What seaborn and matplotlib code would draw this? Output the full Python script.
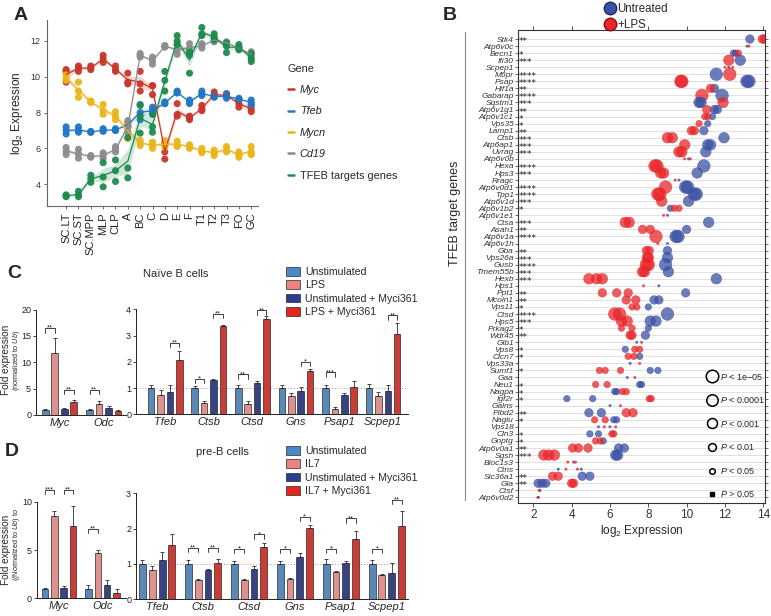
import numpy as np
import pandas as pd
import matplotlib
matplotlib.use("Agg")
import matplotlib.pyplot as plt
from matplotlib.lines import Line2D
from matplotlib.patches import Patch
from matplotlib.font_manager import FontProperties
import seaborn as sns

# ---------------- panel A : expression along B cell development ----------------
STAGES = ["SC.LT", "SC.ST", "SC.MPP", "MLP", "CLP", "A", "BC", "C", "D",
          "E", "F", "T1", "T2", "T3", "FO", "GC"]
MYC_A = [[10.4, 10.3, 9.7], [10.6, 10.5, 10.3], [10.6, 10.4, 10.5], [11.2, 11.0, 10.8],
         [10.6, 10.4, 10.3], [10.2, 9.7, 9.6], [10.3, 9.6, 9.2], [9.5, 9.5, 9.0],
         [6.3, 5.8, 5.4], [8.5, 7.9, 7.8], [7.8, 7.7, 7.6], [8.4, 8.2, 8.1],
         [9.15, 9.0, 8.9], [9.05, 8.9, 8.9], [8.7, 8.5, 8.3], [8.4, 8.2, 8.05]]
TFEB_A = [[7.2, 7.0, 6.8], [7.2, 7.0, 6.9], [6.9, 6.9, 6.95], [7.1, 7.0, 6.95],
          [7.1, 7.0, 7.0], [7.45, 7.3, 7.2], [8.45, 8.0, 7.6], [8.3, 8.1, 7.9],
          [8.6, 8.5, 8.5], [9.2, 9.1, 9.1], [8.7, 8.6, 8.5], [9.2, 9.05, 8.95],
          [8.95, 8.9, 8.85], [9.05, 8.9, 8.8], [8.8, 8.75, 8.7], [8.7, 8.55, 8.45]]
MYCN_A = [[10.1, 9.95, 9.8], [9.7, 9.2, 8.85], [8.65, 8.6, 8.55], [8.45, 8.1, 7.9],
          [8.05, 7.8, 7.6], [7.4, 7.0, 6.55], [6.45, 6.3, 6.15], [6.35, 6.2, 6.0],
          [6.45, 6.2, 6.05], [6.4, 6.2, 6.1], [6.2, 6.1, 6.0], [6.0, 5.85, 5.75],
          [5.9, 5.75, 5.6], [6.1, 5.9, 5.8], [5.8, 5.65, 5.5], [6.1, 5.8, 5.65]]
CD19_A = [[6.05, 5.85, 5.65], [5.95, 5.7, 5.45], [5.6, 5.55, 5.5], [5.75, 5.6, 5.45],
          [6.1, 5.95, 5.8], [7.55, 7.2, 6.9], [11.3, 11.2, 11.1], [11.1, 10.9, 10.7],
          [11.75, 11.7, 11.65], [11.8, 11.5, 11.25], [11.85, 11.6, 11.4], [11.85, 11.75, 11.6],
          [12.15, 12.05, 11.95], [11.95, 11.9, 11.85], [11.65, 11.6, 11.55], [11.4, 11.25, 11.1]]
TARGETS_A = [[3.4, 3.35, 3.3], [3.6, 3.4, 3.3], [4.5, 4.3, 4.1], [5.2, 4.4, 3.85],
             [5.35, 4.75, 4.15], [6.6, 4.9, 4.35], [8.4, 7.8, 6.85], [7.9, 7.2, 6.9],
             [10.3, 9.8, 9.2], [12.3, 12.0, 11.8], [11.4, 11.2, 10.2], [12.75, 12.4, 12.3],
             [12.4, 12.2, 12.05], [11.9, 11.7, 11.35], [11.8, 11.65, 11.5], [11.3, 11.0, 10.85]]
GENE_NAMES_A = ["Myc", "Tfeb", "Mycn", "Cd19", "TFEB targets genes"]
GENE_COLORS_A = ["#c9362b", "#2276c3", "#e9b61a", "#8c8c8c", "#1e8b4d"]

# ---------------- panel B : TFEB targets, untreated vs LPS ----------------
GENES_B = ["Stk4", "Atp6v0c", "Becn1", "Ifi30", "Scpep1", "M6pr", "Psap", "Hif1a",
           "Gabarap", "Sqstm1", "Atp6v1g1", "Atp6v1c1", "Vps35", "Lamp1", "Ctsb",
           "Atp6ap1", "Uvrag", "Atp6v0b", "Hexa", "Hps3", "Rragc", "Atp6v0d1", "Tpp1",
           "Atp6v1d", "Atp6v1b2", "Atp6v1e1", "Ctsa", "Asah1", "Atp6v1a", "Atp6v1h",
           "Gba", "Vps26a", "Gusb", "Tmem55b", "Hexb", "Hps1", "Ppt1", "Mcoln1", "Vps11",
           "Ctsd", "Hps5", "Prkag2", "Wdr45", "Glb1", "Vps8", "Clcn7", "Vps33a", "Sumf1",
           "Gaa", "Neu1", "Nagpa", "Igf2r", "Galns", "Plbd2", "Naglu", "Vps18", "Cln3",
           "Gnptg", "Atp6v0a1", "Sgsh", "Bloc1s3", "Ctns", "Slc36a1", "Gla", "Ctsf",
           "Atp6v0d2"]
STARS_B = [2, 0, 1, 3, 0, 4, 4, 2, 4, 3, 2, 1, 1, 2, 3, 3, 3, 0, 4, 3, 0, 4, 4, 3, 1, 0,
           3, 2, 4, 0, 2, 3, 4, 3, 3, 0, 2, 2, 1, 4, 3, 1, 2, 0, 1, 1, 0, 1, 0, 1, 1, 1, 0,
           2, 1, 0, 1, 1, 2, 3, 0, 0, 2, 2, 0, 0]
UNTREATED_B = [[13.3], [13.15], [12.45, 12.55], [12.8], [12.2], [11.55], [13.15, 13.25],
               [11.45], [11.85], [10.65, 10.75], [11.45, 11.6], [11.35], [11.1], [10.9],
               [11.95], [11.1, 11.25], [11.0], [10.1], [10.9], [10.55], [9.6], [9.95, 10.05],
               [10.4, 10.5], [10.1], [9.15], [9.0], [11.15], [10.0], [9.45, 9.55], [9.0],
               [9.0], [9.0], [8.9], [9.05], [11.55], [8.55], [9.95], [8.3, 8.55], [8.0],
               [9.0], [8.1, 8.4], [8.0], [7.85], [7.4], [6.8], [7.55], [7.05], [8.1, 8.5],
               [6.9], [7.55, 7.65], [6.25, 6.35], [3.75, 5.1], [6.0], [4.9, 5.55],
               [6.2, 6.35], [5.4, 6.0], [4.95, 5.4], [5.65], [6.45, 6.75], [6.3, 6.4],
               [4.1], [3.3, 4.5], [4.55, 4.95], [2.25, 2.45, 2.65], [2.35], [2.25]]
LPS_B = [[13.95, 14.05], [13.25], [12.7], [12.2], [12.0, 12.4], [12.25], [9.7, 9.75],
         [11.25], [10.8], [11.9], [11.05], [10.95, 11.1], [10.65], [10.25, 10.4],
         [9.0, 9.25], [9.9], [9.6, 9.75], [9.9, 10.2], [8.35, 8.45], [8.65, 8.8], [9.4],
         [8.9], [8.5, 8.6], [8.7], [9.35, 9.6], [8.8], [6.8, 7.0], [7.7, 8.1], [8.4],
         [8.5], [7.9, 8.05], [7.95, 8.0], [7.9, 8.0], [7.7, 7.8], [4.9, 5.3, 5.6], [7.75],
         [5.6, 6.35, 6.95], [6.85, 7.35], [7.15, 7.4], [6.25, 6.5], [6.6, 6.9], [6.6, 7.15],
         [7.05, 7.15], [7.65], [7.3, 7.55], [6.95, 7.25], [7.55], [5.45, 5.75, 6.55],
         [7.3], [5.25, 5.85], [6.65, 6.85], [8.05, 8.15], [6.55], [6.85, 7.2], [5.2, 5.75],
         [5.7, 6.3], [6.1, 6.2], [5.25, 5.5], [4.05, 4.35, 4.85], [2.55, 2.8, 3.1],
         [3.8, 4.2], [3.7, 4.3], [3.0, 3.3], [4.0, 4.1], [2.3], [2.25]]
P_LABELS_B = ["1e\u221205", "0.0001", "0.001", "0.01", "0.05"]

# ---------------- panels C / D : qPCR ----------------
SHORT_GENES = ["Myc", "Odc"]
LONG_GENES = ["Tfeb", "Ctsb", "Ctsd", "Gns", "Psap1", "Scpep1"]
NAIVE_CONDS = ["Unstimulated", "LPS", "Unstimulated + Myci361", "LPS + Myci361"]
PREB_CONDS = ["Unstimulated", "IL7", "Unstimulated + Myci361", "IL7 + Myci361"]
BAR_COLORS = ["#4a89c8", "#ec8383", "#2c3c8e", "#e3261c"]

# rows = conditions, columns = genes
NAIVE_SHORT = [[1.0, 1.0], [11.8, 2.1], [1.1, 1.3], [2.4, 0.7]]
NAIVE_SHORT_ERR = [[0.05, 0.2], [2.8, 0.5], [0.2, 0.4], [0.4, 0.3]]
NAIVE_LONG = [[1.0, 1.0, 1.0, 1.0, 1.0, 1.0],
              [0.75, 0.42, 0.40, 0.68, 0.20, 0.70],
              [0.85, 1.30, 1.20, 0.90, 0.75, 0.88],
              [2.08, 3.35, 3.62, 1.65, 1.03, 3.05]]
NAIVE_LONG_ERR = [[0.10, 0.06, 0.10, 0.10, 0.12, 0.15],
                  [0.17, 0.08, 0.12, 0.14, 0.06, 0.15],
                  [0.27, 0.05, 0.07, 0.15, 0.05, 0.25],
                  [0.32, 0.07, 0.13, 0.08, 0.23, 0.43]]
PREB_SHORT = [[1.0, 1.0], [8.5, 4.7], [1.1, 1.4], [7.5, 0.6]]
PREB_SHORT_ERR = [[0.1, 0.4], [0.5, 0.3], [0.2, 0.5], [2.1, 0.35]]
PREB_LONG = [[1.0, 1.0, 1.0, 1.0, 1.0, 1.0],
             [0.82, 0.55, 0.55, 0.58, 0.76, 0.70],
             [1.10, 0.83, 0.87, 1.20, 1.03, 0.75],
             [1.53, 1.03, 1.48, 2.02, 1.70, 2.08]]
PREB_LONG_ERR = [[0.10, 0.10, 0.07, 0.07, 0.13, 0.12],
                 [0.13, 0.02, 0.03, 0.03, 0.03, 0.02],
                 [0.25, 0.04, 0.08, 0.12, 0.05, 0.27],
                 [0.32, 0.10, 0.12, 0.08, 0.22, 0.42]]
# (gene index, condition a, condition b, bracket height, label)
NAIVE_SHORT_SIG = [(0, 0, 1, 16.5, "**"), (0, 2, 3, 4.8, "**"), (1, 0, 1, 4.8, "**")]
NAIVE_LONG_SIG = [(0, 2, 3, 2.73, "**"), (1, 0, 1, 1.35, "*"), (1, 2, 3, 3.84, "**"),
                  (2, 0, 1, 1.52, "**"), (2, 2, 3, 3.96, "**"), (3, 2, 3, 2.0, "*"),
                  (4, 0, 1, 1.6, "***"), (5, 2, 3, 3.77, "**")]
PREB_SHORT_SIG = [(0, 0, 1, 11.2, "***"), (0, 2, 3, 11.2, "**"), (1, 0, 1, 7.2, "**")]
PREB_LONG_SIG = [(1, 0, 1, 1.46, "**"), (1, 2, 3, 1.46, "**"), (2, 0, 1, 1.42, "*"),
                 (2, 2, 3, 1.84, "*"), (3, 0, 1, 1.42, "*"), (3, 2, 3, 2.34, "*"),
                 (4, 0, 1, 1.42, "*"), (4, 2, 3, 2.29, "**"), (5, 0, 1, 1.42, "*"),
                 (5, 2, 3, 2.81, "**")]

W, H = 771, 616


def box(l, t, r, b):
    return [l / W, 1 - b / H, (r - l) / W, (b - t) / H]


def bar_panel(ax, genes, conds, vals, errs, sigs, ylim, yticks, xlim, bh, refline=False):
    rows = [(g, c, v) for c, vl in zip(conds, vals) for g, v in zip(genes, vl)]
    df = pd.DataFrame(rows, columns=["gene", "cond", "value"])
    sns.barplot(data=df, x="gene", y="value", hue="cond", order=genes, hue_order=conds,
                palette=BAR_COLORS, width=0.86, gap=0.3, errorbar=None,
                edgecolor="#2a2a2a", linewidth=0.5, legend=False, ax=ax)
    centres = []
    for cont, vl, el in zip(ax.containers, vals, errs):
        xs = [b.get_x() + b.get_width() / 2 for b in cont]
        centres.append(xs)
        ax.errorbar(xs, vl, yerr=[np.zeros(len(el)), el], fmt="none", ecolor="#2a2a2a",
                    elinewidth=0.6, capsize=1.6, capthick=0.6, clip_on=False)
    for gi, a, b, y, txt in sigs:
        x1, x2 = centres[a][gi], centres[b][gi]
        ax.plot([x1, x1, x2, x2], [y - bh, y, y, y - bh], color="#222222", lw=0.6, clip_on=False)
        ax.annotate(txt, ((x1 + x2) / 2, y), xytext=(0, -1.2), textcoords="offset points",
                    ha="center", va="baseline", fontsize=5.5, annotation_clip=False)
    if refline:
        ax.axhline(1, ls=(0, (1, 2)), color="#9a9a9a", lw=0.7, zorder=0)
    ax.set_xlim(*xlim)
    ax.set_ylim(*ylim)
    ax.set_yticks(yticks)
    ax.set_xlabel("")
    ax.set_ylabel("")
    ax.tick_params(axis="y", labelsize=6.5, length=2, width=0.6, pad=1.5, colors="#222222")
    ax.tick_params(axis="x", labelsize=8, length=0, pad=2)
    for t in ax.get_xticklabels():
        t.set_style("italic")
    sns.despine(ax=ax)
    for s in ("left", "bottom"):
        ax.spines[s].set_linewidth(0.7)
        ax.spines[s].set_color("#222222")


sns.set_theme(style="ticks")
plt.rcParams["font.family"] = ["Liberation Sans", "DejaVu Sans"]
plt.rcParams["mathtext.fontset"] = "custom"
plt.rcParams["mathtext.rm"] = "Liberation Sans"
plt.rcParams["mathtext.it"] = "Liberation Sans:italic"

fig = plt.figure(figsize=(7.71, 6.16), dpi=100)

# ---------- A ----------
axA = fig.add_axes(box(47, 20, 258, 206))
rows = []
for name, reps in zip(GENE_NAMES_A, [MYC_A, TFEB_A, MYCN_A, CD19_A, TARGETS_A]):
    for stage, vals in zip(STAGES, reps):
        for v in vals:
            rows.append((stage, name, v))
dfA = pd.DataFrame(rows, columns=["stage", "gene", "value"])
palA = dict(zip(GENE_NAMES_A, GENE_COLORS_A))
sns.lineplot(data=dfA, x="stage", y="value", hue="gene", palette=palA, errorbar="se",
             lw=0.9, legend=False, err_kws={"alpha": 0.2, "lw": 0}, ax=axA)
sns.scatterplot(data=dfA, x="stage", y="value", hue="gene", palette=palA, s=26,
                linewidth=0, alpha=0.95, legend=False, ax=axA)
axA.set_xlim(-1.55, 15.55)
axA.set_ylim(2.78, 13.17)
axA.set_yticks([4, 6, 8, 10, 12])
axA.set_xlabel("")
axA.set_ylabel("log$_2$ Expression", fontsize=8.5, labelpad=4)
axA.tick_params(axis="x", labelrotation=90, labelsize=8, length=2.5, width=0.6, pad=2,
                colors="#555555", labelcolor="#222222")
axA.tick_params(axis="y", labelsize=6.5, length=2.5, width=0.6, pad=2,
                colors="#555555", labelcolor="#333333")
sns.despine(ax=axA)
for s in ("left", "bottom"):
    axA.spines[s].set_color("#666666")
    axA.spines[s].set_linewidth(0.8)

legA = fig.legend(handles=[Line2D([], [], color=c, lw=1.8) for c in GENE_COLORS_A],
                  labels=GENE_NAMES_A, title="Gene", loc="upper left",
                  bbox_to_anchor=(278 / W, 1 - 54 / H), frameon=False, fontsize=7.8,
                  title_fontsize=7.8, handlelength=0.6, handletextpad=0.5,
                  labelspacing=1.05, alignment="left")
for t in legA.get_texts()[:4]:
    t.set_style("italic")

# ---------- B ----------
axB = fig.add_axes(box(518, 30, 765, 503))
rows = []
for g, st, u, l in zip(GENES_B, STARS_B, UNTREATED_B, LPS_B):
    for v in u:
        rows.append((g, "Untreated", v, st))
    for v in l:
        rows.append((g, "+LPS", v, st))
dfB = pd.DataFrame(rows, columns=["gene", "cond", "value", "stars"])
sns.scatterplot(data=dfB, x="value", y="gene", hue="cond",
                palette={"Untreated": "#3b52a3", "+LPS": "#e8262a"},
                size="stars", sizes={0: 3, 1: 22, 2: 38, 3: 58, 4: 82},
                alpha=0.75, edgecolor="face", linewidth=0.4, legend=False, ax=axB)
axB.set_yticks(range(len(GENES_B)))
axB.set_yticklabels(GENES_B)
axB.set_xlim(1.2, 14.09)
axB.set_ylim(65.8, -1.28)
axB.set_xticks([2, 4, 6, 8, 10, 12, 14])
axB.set_xlabel("log$_2$ Expression", fontsize=8.5, labelpad=1)
axB.set_ylabel("")
axB.grid(axis="y", color="#dcdcdc", lw=0.6)
axB.set_axisbelow(True)
axB.tick_params(axis="y", labelsize=6, length=2, width=0.5, pad=1, colors="#333333",
                right=True)
axB.tick_params(axis="x", labelsize=8.5, length=3, width=0.6, pad=1.5, colors="#333333",
                top=True)
for t in axB.get_yticklabels():
    t.set_style("italic")
for s in axB.spines.values():
    s.set_color("#333333")
    s.set_linewidth(0.8)

# significance stars: one multi-line text, one line per gene row
star_font = FontProperties(family="DejaVu Sans", size=6.5)
renderer = fig.canvas.get_renderer()
_, lp_h, lp_d = renderer.get_text_width_height_descent("lp", star_font, ismath=False)
ascent = lp_h - lp_d
row_px = abs(axB.transData.transform((0, 1))[1] - axB.transData.transform((0, 0))[1])
axB.annotate("\n".join("*" * s for s in STARS_B), (1.25, 0),
             xytext=(0, -3.6 + ascent * 72 / fig.dpi), textcoords="offset points",
             ha="left", va="top", multialignment="left", fontproperties=star_font,
             linespacing=(row_px - lp_d) / ascent, color="#222222")

size_handles = [Line2D([], [], ls="", marker="o", mfc="none", mec="black", mew=1.1, ms=m)
                for m in [9.0, 8.2, 7.2, 5.6, 4.0]]
size_handles.append(Line2D([], [], ls="", marker="s", mfc="black", mec="black", ms=2.2))
size_labels = ["$P$ < " + p for p in P_LABELS_B] + ["$P$ > 0.05"]
axB.legend(size_handles, size_labels, loc="lower left", bbox_to_anchor=(0.765, 0.008),
           frameon=False, fontsize=6.5, labelspacing=1.5, handletextpad=0.3,
           handlelength=1.2, borderpad=0, borderaxespad=0)
fig.legend(handles=[Line2D([], [], ls="", marker="o", ms=9, mfc="#3b52a3", mec="#1d2a66"),
                    Line2D([], [], ls="", marker="o", ms=9, mfc="#e8262a", mec="#8a1010")],
           labels=["Untreated", "+LPS"], loc="upper left", bbox_to_anchor=(596 / W, 1.006),
           frameon=False, fontsize=8.3, labelspacing=0.35, handletextpad=0.05,
           handlelength=1.2, borderpad=0.1)
fig.text(455 / W, 1 - 213 / H, "TFEB target genes", rotation=90, ha="center",
         va="center", fontsize=9)
fig.add_artist(Line2D([465 / W, 465 / W], [1 - 32 / H, 1 - 500 / H], color="#888888", lw=0.8))

# ---------- C ----------
axC1 = fig.add_axes(box(36, 309.5, 126, 415))
bar_panel(axC1, SHORT_GENES, NAIVE_CONDS, NAIVE_SHORT, NAIVE_SHORT_ERR, NAIVE_SHORT_SIG,
          (0, 20), [0, 5, 10, 15, 20], (-0.53, 1.5), 0.9)
axC2 = fig.add_axes(box(136, 309.3, 408, 414.3))
bar_panel(axC2, LONG_GENES, NAIVE_CONDS, NAIVE_LONG, NAIVE_LONG_ERR, NAIVE_LONG_SIG,
          (0, 4), [0, 1, 2, 3, 4], (-0.67, 5.57), 0.16, refline=True)
fig.text(176 / W, 1 - 274 / H, "Na\u00efve B cells", ha="center", va="center", fontsize=8)
fig.text(6.4 / W, 1 - 360 / H, "Fold expression", rotation=90, ha="center", va="center",
         fontsize=7.2)
fig.text(16.8 / W, 1 - 360 / H, "(normalized to $Ub$)", rotation=90, ha="center",
         va="center", fontsize=5.2)
fig.legend(handles=[Patch(fc=c, ec="#2a2a2a", lw=0.5) for c in BAR_COLORS],
           labels=NAIVE_CONDS, loc="upper left", bbox_to_anchor=(281 / W, 1 - 262 / H),
           frameon=False, fontsize=7.6, handlelength=1.3, handleheight=0.9,
           handletextpad=0.5, labelspacing=0.3, borderpad=0)

# ---------- D ----------
axD1 = fig.add_axes(box(36.7, 501.7, 126, 598.3))
bar_panel(axD1, SHORT_GENES, PREB_CONDS, PREB_SHORT, PREB_SHORT_ERR, PREB_SHORT_SIG,
          (0, 10), [0, 5, 10], (-0.51, 1.54), 0.45)
axD2 = fig.add_axes(box(136, 493.3, 408, 599.3))
bar_panel(axD2, LONG_GENES, PREB_CONDS, PREB_LONG, PREB_LONG_ERR, PREB_LONG_SIG,
          (0, 3), [0, 1, 2, 3], (-0.46, 5.46), 0.12, refline=True)
fig.text(222 / W, 1 - 452 / H, "pre-B cells", ha="center", va="center", fontsize=8)
fig.text(6.4 / W, 1 - 550 / H, "Fold expression", rotation=90, ha="center", va="center",
         fontsize=7.2)
fig.text(16.8 / W, 1 - 545 / H, "((Normalized to $Ub$) to", rotation=90, ha="center",
         va="center", fontsize=5.2)
fig.legend(handles=[Patch(fc=c, ec="#2a2a2a", lw=0.5) for c in BAR_COLORS],
           labels=PREB_CONDS, loc="upper left", bbox_to_anchor=(281 / W, 1 - 441 / H),
           frameon=False, fontsize=7.6, handlelength=1.3, handleheight=0.9,
           handletextpad=0.5, labelspacing=0.3, borderpad=0)

# ---------- panel letters ----------
for letter, (x, y) in zip("ABCD", [(21, 15), (450, 15), (14, 274), (12, 452)]):
    fig.text(x / W, 1 - y / H, letter, ha="center", va="center", fontsize=14,
             fontweight="bold")

fig.savefig("out.png", dpi=100)
